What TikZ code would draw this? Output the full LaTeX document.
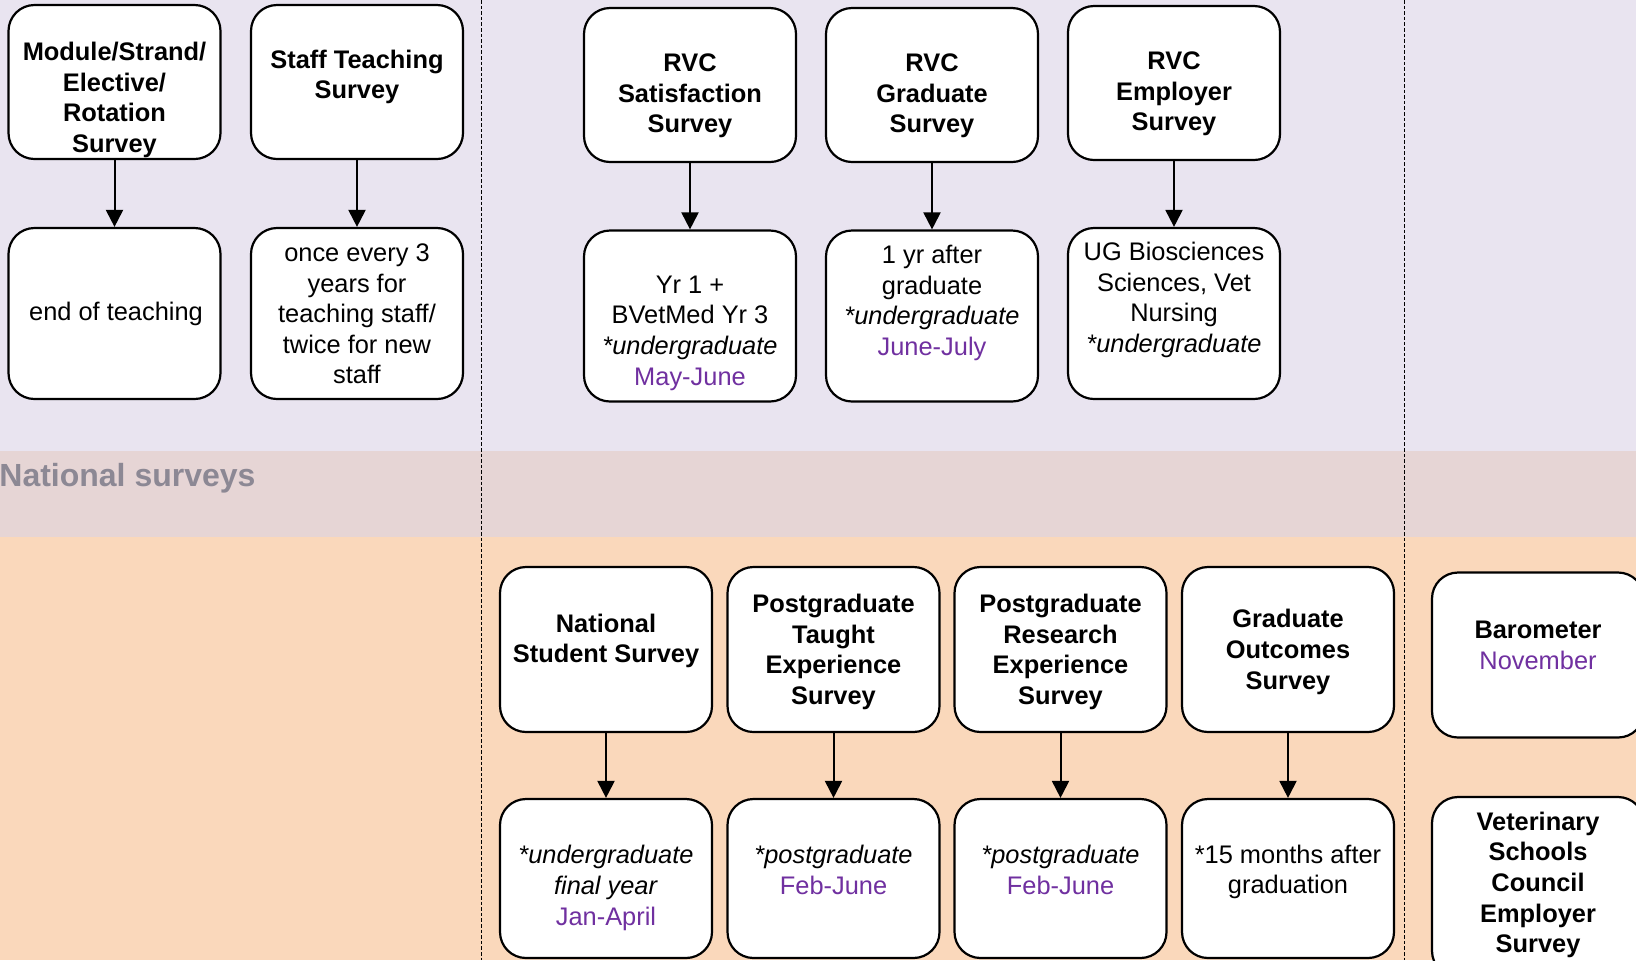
\documentclass[tikz,border=0pt]{standalone}
\usepackage{fontspec}
\setmainfont{Liberation Sans}
\usetikzlibrary{arrows.meta}

\definecolor{lavbg}{HTML}{E9E4F0}
\definecolor{bandbg}{HTML}{E6D5D5}
\definecolor{peachbg}{HTML}{FAD8BB}
\definecolor{labelgray}{HTML}{8C8894}
\definecolor{monthpurple}{HTML}{7030A0}
\newcommand{\survmonth}[1]{\textcolor{monthpurple}{\mdseries #1}}

\begin{document}
\begin{tikzpicture}[
  x=0.5pt, y=-0.5pt,
  font=\fontsize{12.7}{15.3}\selectfont,
  survbox/.style={draw=black, line width=1.1pt, fill=white, rounded corners=13pt,
    minimum width=106pt, inner sep=0pt},
  upperbox/.style={survbox, minimum height=77pt},
  whenbox/.style={survbox, minimum height=85.5pt},
  natbox/.style={survbox, minimum height=82.5pt},
  natwhen/.style={survbox, minimum height=79.5pt},
  txt/.style={align=center, inner sep=0pt},
  head/.style={txt, font=\fontsize{12.7}{15.3}\selectfont\bfseries},
  link/.style={-{Triangle[width=8.5pt,length=8.5pt]}, line width=1pt},
  divider/.style={line width=0.5pt, dash pattern=on 1.8pt off 1pt}
]
\useasboundingbox (0,0) rectangle (1636,960);
\clip (0,0) rectangle (1636,960);

% background bands
\fill[lavbg] (0,0) rectangle (1636,451);
\fill[bandbg] (0,451) rectangle (1636,537);
\fill[peachbg] (0,537) rectangle (1636,960);

\node[anchor=base west, inner sep=0pt, text=labelgray,
  font=\fontsize{16}{19}\selectfont\bfseries] (natlabel) at (-1,486) {National surveys};

\draw[divider] (481,0) -- (481,960);
\draw[divider] (1404,0) -- (1404,960);

% RVC surveys
\node[upperbox] (msurv) at (114.5,82) {};
\node[head] (msurv-t) at (114.5,100) {Module/Strand/\\Elective/\\Rotation\\Survey};
\node[upperbox] (staff) at (357,82) {};
\node[head] (staff-t) at (357,77) {Staff Teaching\\Survey};
\node[upperbox] (rvcsat) at (690,85) {};
\node[head] (rvcsat-t) at (690,96) {RVC\\Satisfaction\\Survey};
\node[upperbox] (rvcgrad) at (932,85) {};
\node[head] (rvcgrad-t) at (932,96) {RVC\\Graduate\\Survey};
\node[upperbox] (rvcemp) at (1174,83) {};
\node[head] (rvcemp-t) at (1174,94) {RVC\\Employer\\Survey};

\node[whenbox] (msurvw) at (114.5,313.5) {};
\node[txt] (msurvw-t) at (116,314) {end of teaching};
\node[whenbox] (staffw) at (357,313.5) {};
\node[txt] (staffw-t) at (357,314) {once every 3\\years for\\teaching staff/\\twice for new\\staff};
\node[whenbox] (rvcsatw) at (690,316) {};
\node[txt] (rvcsatw-t) at (690,333) {Yr 1 +\\BVetMed Yr 3\\\textit{*undergraduate}\\\survmonth{May-June}};
\node[whenbox] (rvcgradw) at (932,316) {};
\node[txt] (rvcgradw-t) at (932,303) {1 yr after\\graduate\\\textit{*undergraduate}\\\survmonth{June-July}};
\node[whenbox] (rvcempw) at (1174,313.5) {};
\node[txt] (rvcempw-t) at (1174,300) {UG Biosciences\\Sciences, Vet\\Nursing\\\textit{*undergraduate}};

\foreach \s in {msurv, staff, rvcsat, rvcgrad, rvcemp}
  \draw[link] (\s) -- (\s w);

% national surveys
\node[natbox] (nss) at (606,649.5) {};
\node[head] (nss-t) at (606,641) {National\\Student Survey};
\node[natbox] (ptes) at (833.5,649.5) {};
\node[head] (ptes-t) at (833.5,652) {Postgraduate\\Taught\\Experience\\Survey};
\node[natbox] (pres) at (1060.5,649.5) {};
\node[head] (pres-t) at (1060.5,652) {Postgraduate\\Research\\Experience\\Survey};
\node[natbox] (gos) at (1288,649.5) {};
\node[head] (gos-t) at (1288,652) {Graduate\\Outcomes\\Survey};
\node[natbox] (baro) at (1538,655) {};
\node[head] (baro-t) at (1538,645.5) {Barometer\\\survmonth{November}};

\node[natwhen] (nssw) at (606,878.5) {};
\node[txt] (nssw-t) at (606,888) {\textit{*undergraduate}\\\textit{final year}\\\survmonth{Jan-April}};
\node[natwhen] (ptesw) at (833.5,878.5) {};
\node[txt] (ptesw-t) at (833.5,870) {\textit{*postgraduate}\\\survmonth{Feb-June}};
\node[natwhen] (presw) at (1060.5,878.5) {};
\node[txt] (presw-t) at (1060.5,870) {\textit{*postgraduate}\\\survmonth{Feb-June}};
\node[natwhen] (gosw) at (1288,878.5) {};
\node[txt] (gosw-t) at (1288,872) {*15 months after\\graduation};
\node[survbox, minimum height=90pt] (vsc) at (1538,887) {};
\node[head] (vsc-t) at (1538,885) {Veterinary\\Schools\\Council\\Employer\\Survey};

\foreach \s in {nss, ptes, pres, gos}
  \draw[link] (\s) -- (\s w);

\end{tikzpicture}
\end{document}
